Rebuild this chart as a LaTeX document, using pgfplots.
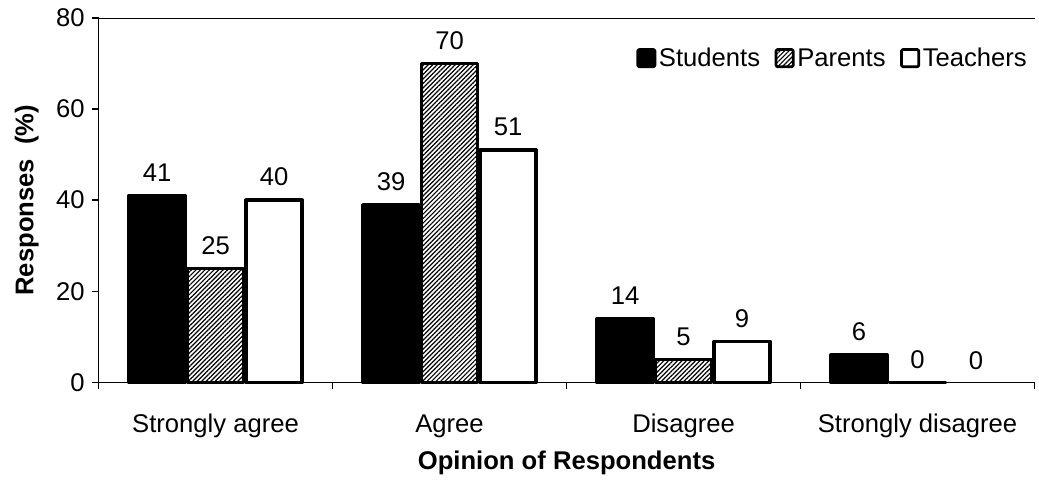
\documentclass[border=0pt]{standalone}
\usepackage{fontspec}
\setmainfont{Liberation Sans}
\usepackage{pgfplots}
\pgfplotsset{compat=1.18}
\usetikzlibrary{patterns.meta}

\newcommand{\chartfont}{\fontsize{19.3}{23}\selectfont}

\begin{document}
\begin{tikzpicture}
\begin{axis}[
  scale only axis, width=705pt, height=274.5pt,
  clip=false,
  ybar, bar width=0.24,
  xmin=-0.5, xmax=3.5, ymin=0, ymax=80,
  axis x line*=bottom, axis y line*=left,
  axis line style={line width=1.1pt},
  tick align=outside, major tick length=5pt,
  tick style={black, line width=1.1pt},
  ytick={0,20,...,80},
  xtick={-0.5,0.5,1.5,2.5,3.5}, xticklabels={},
  extra x ticks={0,1,2,3},
  extra x tick labels={Strongly agree,Agree,Disagree,Strongly disagree},
  extra x tick style={major tick length=0pt, grid=none},
  extra y ticks={80}, extra y tick labels={},
  extra y tick style={grid=major, major grid style={black, line width=0.6pt}},
  tick label style={font=\chartfont},
  yticklabel style={xshift=-2pt},
  /pgf/number format/assume math mode=true,
  xticklabel style={anchor=base, yshift=-38pt},
  ylabel={\textbf{Responses\ \ (\%)}},
  xlabel={\textbf{Opinion of Respondents}},
  label style={font=\chartfont},
  ylabel style={at={(axis description cs:-0.0766,0.5)}, anchor=center},
  xlabel style={at={(axis description cs:0.5,-0.2213)}, anchor=center},
  nodes near coords,
  every node near coord/.append style={font=\chartfont, black, yshift=6pt},
  legend style={draw=none, fill=none, font=\chartfont,
    at={(axis description cs:0.999,0.925)}, anchor=north east,
    nodes={text height=0.72em, text depth=0.22em},
    /tikz/every even column/.append style={column sep=9pt}},
  legend columns=-1,
  legend image code/.code={%
    \draw[#1, line width=2pt, rounded corners=1pt]
      (0pt,-2.6pt) rectangle (13pt,10.4pt);},
]
% Students
\addplot[bar shift=-0.25, fill=black, draw=black, line width=2.6pt, line join=round]
  coordinates {(0,41) (1,39) (2,14) (3,6)};
% Parents
\addplot[bar shift=0, draw=black, line width=2.6pt, line join=round,
  pattern={Lines[angle=45,distance=2.4pt,line width=0.9pt]}, pattern color=black]
  coordinates {(0,25) (1,70) (2,5) (3,0)};
% Teachers
\addplot[bar shift=0.25, fill=white, draw=black, line width=2.6pt, line join=round]
  coordinates {(0,40) (1,51) (2,9)};
% Teachers, strongly disagree: zero share, label only
\addplot[bar shift=0.25, draw=none, fill=none, forget plot]
  coordinates {(3,0)};
\legend{Students,Parents,Teachers}
% page extent
\path (axis description cs:-0.1053,-0.265) rectangle (axis description cs:1,1.0492);
\end{axis}
\end{tikzpicture}
\end{document}
